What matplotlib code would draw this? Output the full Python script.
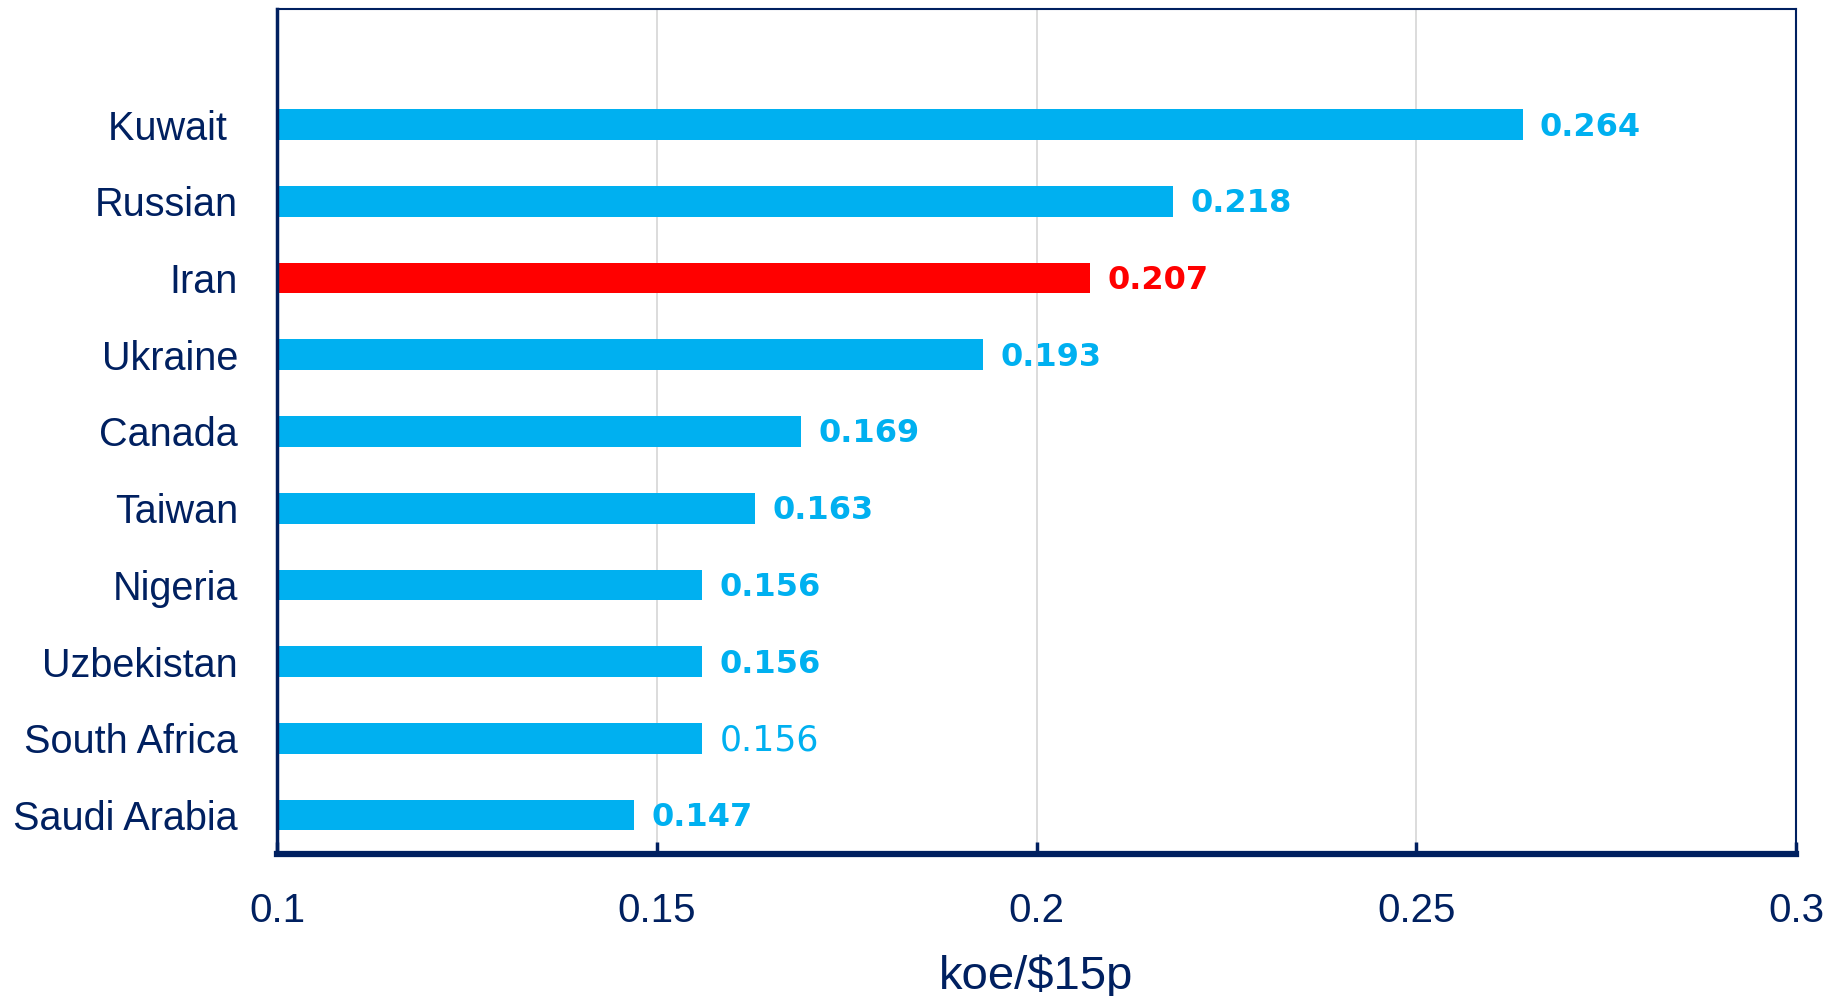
import matplotlib
matplotlib.use("Agg")
import matplotlib.pyplot as plt
from matplotlib import font_manager

countries = ["Kuwait ", "Russian", "Iran", "Ukraine", "Canada", "Taiwan",
             "Nigeria", "Uzbekistan", "South Africa", "Saudi Arabia"]
values = [0.264, 0.218, 0.207, 0.193, 0.169, 0.163, 0.156, 0.156, 0.156, 0.147]
value_labels = ["0.264", "0.218", "0.207", "0.193", "0.169", "0.163",
                "0.156", "0.156", "0.156", "0.147"]
highlight = "Iran"
plain_label = "South Africa"
x_ticks = [0.1, 0.15, 0.2, 0.25, 0.3]
x_tick_labels = ["0.1", "0.15", "0.2", "0.25", "0.3"]
x_title = "koe/$15p"

NAVY = "#002060"
BLUE = "#00B0F0"
RED = "#FF0000"
GRID = "#D9D9D9"

installed = {f.name for f in font_manager.fontManager.ttflist}
narrow = [f for f in ["Liberation Sans Narrow", "DejaVu Sans Condensed",
                      "Liberation Sans", "DejaVu Sans"] if f in installed]

fig = plt.figure(figsize=(18.41, 9.96), dpi=100)
ax = fig.add_axes([277 / 1841, 1 - 853.5 / 996, (1796 - 277) / 1841, (853.5 - 9.5) / 996])

n = len(countries)
ypos = [n - 1 - i for i in range(n)]
colors = [RED if c == highlight else BLUE for c in countries]
ax.barh(ypos, values, height=0.4, left=0, color=colors, zorder=2)

for y, v, lab, c, col in zip(ypos, values, value_labels, countries, colors):
    bold = c != plain_label
    ax.annotate(lab, xy=(v, y), xytext=(12.5, -1.8), textcoords="offset points",
                ha="left", va="center", color=col,
                fontsize=23 if bold else 25,
                fontweight="bold" if bold else "normal",
                family="DejaVu Sans")

ax.set_xlim(0.1, 0.3)
ax.set_ylim(-0.5, 10.5)
ax.set_xticks(x_ticks)
ax.set_xticklabels(x_tick_labels, family=narrow, fontsize=29, color=NAVY)
ax.set_yticks(ypos)
ax.set_yticklabels(countries, family=narrow, fontsize=28.5, color=NAVY)
ax.tick_params(axis="y", length=0, pad=28)
ax.tick_params(axis="x", direction="in", length=9, width=2.5, color=NAVY, pad=28)
ax.set_xlabel(x_title, family=narrow, fontsize=34, color=NAVY, labelpad=17)

ax.grid(axis="x", color=GRID, linewidth=1.3, zorder=0)
ax.set_axisbelow(True)

ax.spines["left"].set_linewidth(2.5)
ax.spines["bottom"].set_linewidth(4.5)
ax.spines["top"].set_linewidth(1.5)
ax.spines["right"].set_linewidth(1.5)
for s in ax.spines.values():
    s.set_color(NAVY)
    s.set_zorder(3)

fig.savefig("out.png", dpi=100)
